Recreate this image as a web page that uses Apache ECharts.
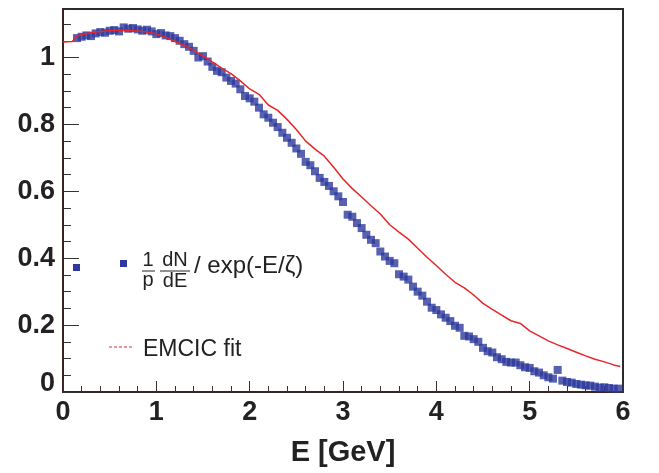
<!DOCTYPE html>
<html>
<head>
<meta charset="utf-8">
<script src="https://cdn.jsdelivr.net/npm/echarts@6/dist/echarts.min.js"></script>
<style>
html,body{margin:0;padding:0;background:#fff;}
#c{width:659px;height:473px;}
</style>
</head>
<body>
<div id="c"></div>
<script>
// Measured spectrum divided by exp(-E/zeta)
const dataE = [0.15,0.20,0.25,0.30,0.35,0.40,0.45,0.50,0.55,0.60,0.65,0.70,0.75,0.80,0.85,0.90,0.95,1.00,
  1.05,1.10,1.15,1.20,1.25,1.30,1.35,1.40,1.45,1.50,1.55,1.60,1.65,1.70,1.75,1.80,1.85,1.90,1.95,2.00,
  2.05,2.10,2.15,2.20,2.25,2.30,2.35,2.40,2.45,2.50,2.55,2.60,2.65,2.70,2.75,2.80,2.85,2.90,2.95,3.00,
  3.05,3.10,3.15,3.20,3.25,3.30,3.35,3.40,3.45,3.50,3.55,3.60,3.65,3.70,3.75,3.80,3.85,3.90,3.95,4.00,
  4.05,4.10,4.15,4.20,4.25,4.30,4.35,4.40,4.45,4.50,4.55,4.60,4.65,4.70,4.75,4.80,4.85,4.90,4.95,5.00,
  5.05,5.10,5.15,5.20,5.25,5.30,5.35,5.40,5.45,5.50,5.55,5.60,5.65,5.70,5.75,5.80,5.85,5.90,5.95];
const dataY = [1.058,1.062,1.066,1.064,1.072,1.076,1.074,1.080,1.082,1.078,1.090,1.086,1.088,1.084,1.080,1.083,1.078,1.070,
  1.073,1.066,1.064,1.058,1.050,1.040,1.032,1.020,1.000,1.004,0.988,0.972,0.960,0.956,0.940,0.930,0.922,0.905,0.885,0.878,
  0.868,0.850,0.830,0.820,0.805,0.792,0.775,0.760,0.745,0.728,0.712,0.688,0.678,0.660,0.640,0.628,0.616,0.600,0.585,0.568,
  0.530,0.524,0.505,0.490,0.470,0.455,0.445,0.420,0.405,0.392,0.385,0.352,0.345,0.336,0.315,0.300,0.288,0.270,0.252,0.245,
  0.232,0.222,0.212,0.198,0.192,0.168,0.166,0.158,0.150,0.132,0.122,0.118,0.104,0.098,0.090,0.088,0.088,0.080,0.074,0.072,
  0.062,0.058,0.050,0.044,0.040,0.066,0.034,0.030,0.028,0.024,0.022,0.020,0.019,0.016,0.013,0.014,0.012,0.010,0.010];
// EMCIC fit curve
const fitE = [0.0,0.1,0.15,0.2,0.3,0.4,0.5,0.6,0.7,0.8,0.9,1.0,1.1,1.2,1.3,1.4,1.5,1.6,1.7,1.8,1.9,2.0,
  2.1,2.2,2.3,2.4,2.5,2.6,2.7,2.8,2.9,3.0,3.1,3.2,3.3,3.4,3.5,3.6,3.7,3.8,3.9,4.0,4.1,4.2,4.3,4.4,4.5,
  4.6,4.7,4.8,4.9,5.0,5.1,5.2,5.3,5.4,5.5,5.6,5.7,5.8,5.9,5.97];
const fitY = [1.046,1.048,1.064,1.068,1.075,1.078,1.080,1.082,1.081,1.079,1.076,1.070,1.060,1.048,1.036,1.022,1.004,0.987,0.968,0.952,0.930,0.906,
  0.890,0.858,0.842,0.815,0.785,0.750,0.726,0.705,0.672,0.637,0.608,0.583,0.557,0.532,0.500,0.478,0.457,0.430,0.403,0.378,0.352,0.328,0.311,0.290,0.265,
  0.247,0.230,0.213,0.205,0.183,0.168,0.153,0.141,0.130,0.119,0.108,0.098,0.090,0.081,0.076];
const xTitle = 'E [GeV]';
const fitLabel = 'EMCIC fit';

const FONT = 'Liberation Sans';
const chart = echarts.init(document.getElementById('c'), null, {renderer: 'canvas'});
const blue = '#2d399c';
const red = '#e8262a';
const axCol = '#3a2222';

chart.setOption({
  animation: false,
  backgroundColor: '#fff',
  grid: {left: 63, right: 36, top: 9, bottom: 81, show: true, borderColor: '#2a2a2a', borderWidth: 2, backgroundColor: 'transparent'},
  xAxis: {
    type: 'value', min: 0, max: 6, interval: 1,
    name: xTitle, nameLocation: 'middle', nameGap: 46,
    nameTextStyle: {fontFamily: FONT, fontWeight: 'bold', fontSize: 29, color: '#222'},
    axisLine: {show: true, lineStyle: {color: axCol, width: 2}},
    axisTick: {show: true, inside: true, length: 11, lineStyle: {color: '#333', width: 1}},
    minorTick: {show: true, splitNumber: 5, length: 6, lineStyle: {color: '#333', width: 1}},
    splitLine: {show: false},
    axisLabel: {fontFamily: FONT, fontWeight: 'bold', fontSize: 27, color: '#222', margin: 7}
  },
  yAxis: [{
    type: 'value', min: 0, max: 1.145, interval: 0.2,
    axisLine: {show: true, lineStyle: {color: axCol, width: 2}},
    axisTick: {show: true, inside: true, length: 16, lineStyle: {color: '#333', width: 1}},
    splitLine: {show: false},
    axisLabel: {fontFamily: FONT, fontWeight: 'bold', fontSize: 27, color: '#222', margin: 8, showMaxLabel: false,
      formatter: v => (Math.abs(v) < 1e-9 ? '{z|0}' : (Math.abs(v-1) < 1e-9 ? '1' : v.toFixed(1))),
      rich: {z: {fontFamily: FONT, fontWeight: 'bold', fontSize: 27, color: '#222', padding: [0, 0, 16, 0]}}}
  }, {
    type: 'value', min: 0, max: 1.145, interval: 0.05, position: 'left',
    axisLine: {show: false},
    axisTick: {show: true, inside: true, length: 8, lineStyle: {color: '#333', width: 1}},
    splitLine: {show: false},
    axisLabel: {show: false}
  }],
  series: [{
    type: 'scatter', symbol: 'rect', symbolSize: 8,
    itemStyle: {color: blue},
    data: dataE.map((e, i) => [e, dataY[i]]),
    z: 2
  }, {
    type: 'line', symbol: 'none', smooth: false,
    lineStyle: {color: red, width: 1.5},
    data: fitE.map((e, i) => [e, fitY[i]]),
    z: 3
  }],
  graphic: [
    {type: 'rect', shape: {x: 73, y: 264, width: 7, height: 7}, style: {fill: blue}},
    {type: 'rect', shape: {x: 120, y: 260, width: 7, height: 7}, style: {fill: blue}},
    {type: 'text', style: {text: '1', x: 148, y: 260, fontFamily: FONT, fontSize: 20, fill: '#222', align: 'center', verticalAlign: 'middle'}},
    {type: 'line', shape: {x1: 142, y1: 271, x2: 155, y2: 271}, style: {stroke: '#222', lineWidth: 1}},
    {type: 'text', style: {text: 'p', x: 148, y: 280, fontFamily: FONT, fontSize: 20, fill: '#222', align: 'center', verticalAlign: 'middle'}},
    {type: 'text', style: {text: 'dN', x: 175, y: 260, fontFamily: FONT, fontSize: 20, fill: '#222', align: 'center', verticalAlign: 'middle'}},
    {type: 'line', shape: {x1: 160, y1: 271, x2: 190, y2: 271}, style: {stroke: '#222', lineWidth: 1}},
    {type: 'text', style: {text: 'dE', x: 175, y: 281, fontFamily: FONT, fontSize: 20, fill: '#222', align: 'center', verticalAlign: 'middle'}},
    {type: 'text', style: {text: '/ exp(-E/ζ)', x: 194, y: 266, fontFamily: FONT, fontSize: 24, fill: '#222', align: 'left', verticalAlign: 'middle'}},
    {type: 'line', shape: {x1: 109, y1: 347, x2: 133, y2: 347}, style: {stroke: red, lineWidth: 1.2, lineDash: [3, 2]}},
    {type: 'text', style: {text: fitLabel, x: 143, y: 350, fontFamily: FONT, fontSize: 23, fill: '#222', align: 'left', verticalAlign: 'middle'}}
  ]
});
</script>
</body>
</html>
